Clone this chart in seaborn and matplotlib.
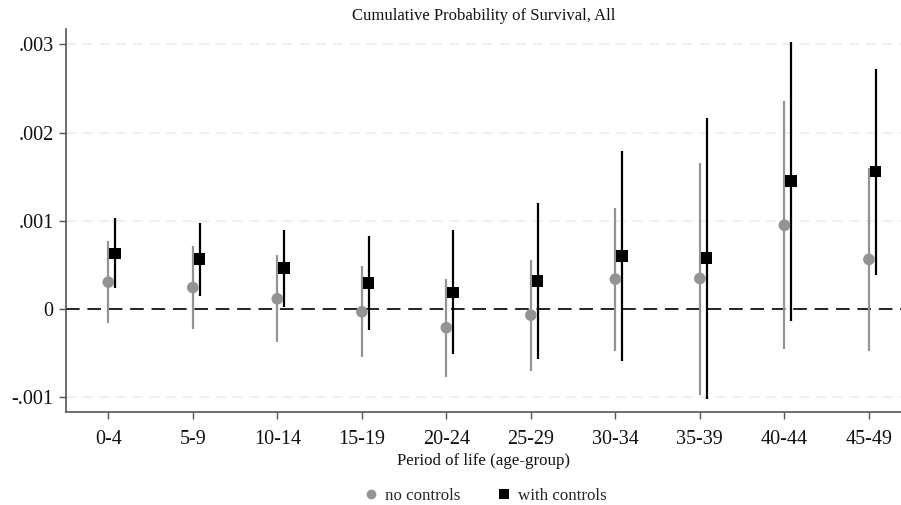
import matplotlib
matplotlib.use("Agg")
import matplotlib.pyplot as plt
from matplotlib.lines import Line2D
import numpy as np
import pandas as pd
import seaborn as sns

# Age groups and estimated coefficients with 95% confidence bounds
age_groups = ["0-4", "5-9", "10-14", "15-19", "20-24", "25-29", "30-34", "35-39", "40-44", "45-49"]

no_ctrl_est = [0.000306, 0.000245, 0.000117, -0.000030, -0.000210, -0.000068, 0.000340, 0.000347, 0.000950, 0.000563]
no_ctrl_lo = [-0.000160, -0.000230, -0.000374, -0.000547, -0.000766, -0.000698, -0.000472, -0.000977, -0.000456, -0.000475]
no_ctrl_hi = [0.000770, 0.000717, 0.000610, 0.000490, 0.000336, 0.000555, 0.001150, 0.001660, 0.002355, 0.001600]

ctrl_est = [0.000630, 0.000566, 0.000468, 0.000294, 0.000189, 0.000320, 0.000604, 0.000581, 0.001450, 0.001560]
ctrl_lo = [0.000234, 0.000150, 0.000026, -0.000238, -0.000513, -0.000566, -0.000589, -0.001020, -0.000136, 0.000390]
ctrl_hi = [0.001027, 0.000980, 0.000900, 0.000826, 0.000900, 0.001200, 0.001790, 0.002170, 0.003030, 0.002725]

models = ["no controls", "with controls"]

pos = np.arange(len(age_groups))
shift = {"no controls": 0.0, "with controls": 0.08}
colors = {"no controls": "#939393", "with controls": "#000000"}
markers = {"no controls": "o", "with controls": "s"}

frames = []
for m, est, lo, hi in [("no controls", no_ctrl_est, no_ctrl_lo, no_ctrl_hi),
                       ("with controls", ctrl_est, ctrl_lo, ctrl_hi)]:
    frames.append(pd.DataFrame({"group": age_groups, "x": pos + shift[m],
                                "est": est, "lo": lo, "hi": hi, "model": m}))
df = pd.concat(frames, ignore_index=True)

sns.set_theme(style="white")
plt.rcParams["font.family"] = ["Liberation Serif", "DejaVu Serif"]

fig = plt.figure(figsize=(9.01, 5.05), dpi=100)
ax = fig.add_axes([0.0733, 0.184, 0.9267, 0.758])

# reference grid at each y tick (except zero, drawn separately)
for yv in [0.003, 0.002, 0.001, -0.001]:
    ax.axhline(yv, color="#ececec", lw=1.2, dashes=(6, 4), zorder=0)
ax.axhline(0, color="#222222", lw=1.4, dashes=(7, 4), zorder=1)

# confidence intervals
for m in models:
    sub = df[df["model"] == m]
    ax.vlines(sub["x"], sub["lo"], sub["hi"], color=colors[m],
              lw=1.6, zorder=2)

sns.scatterplot(data=df, x="x", y="est", hue="model", style="model",
                palette=colors, markers=markers, s=70, edgecolor="none",
                legend=False, ax=ax, zorder=3)

ax.set_xlim(-0.5, 9.38)
ax.set_ylim(-0.001166, 0.00317)
ax.set_xticks(pos)
ax.set_xticklabels(age_groups)
ax.set_yticks([-0.001, 0, 0.001, 0.002, 0.003])
ax.set_yticklabels(["-.001", "0", ".001", ".002", ".003"])
ax.tick_params(axis="both", labelsize=14.5, colors="#555555", labelcolor="#111111",
               length=5, width=1, direction="out", left=True, bottom=True)
ax.tick_params(axis="x", pad=8)
ax.tick_params(axis="y", pad=4)
ax.set_xlabel("Period of life (age-group)", fontsize=12.2, color="#111111", labelpad=3)
ax.set_ylabel("")
ax.set_title("Cumulative Probability of Survival, All", fontsize=12,
             color="#111111", pad=7)

for side in ["top", "right"]:
    ax.spines[side].set_visible(False)
for side in ["left", "bottom"]:
    ax.spines[side].set_color("#555555")
    ax.spines[side].set_linewidth(1.2)

handles = [Line2D([], [], ls="none", marker=markers[m], color=colors[m],
                  markersize=7, markeredgewidth=0) for m in models]
fig.legend(handles, models, loc="center", bbox_to_anchor=(0.538, 0.018),
           ncol=2, frameon=False, fontsize=12.2, handletextpad=0.3,
           columnspacing=2.1, handlelength=1.0)

fig.savefig("out.png", dpi=100)
